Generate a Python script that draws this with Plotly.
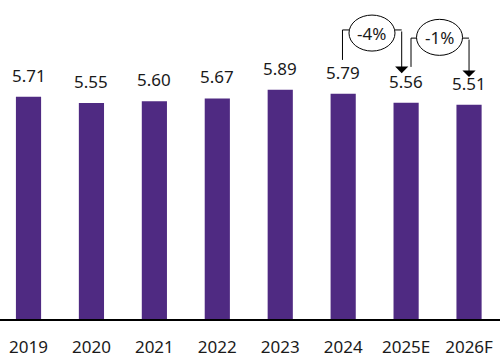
import plotly.graph_objects as go

years = ["2019", "2020", "2021", "2022", "2023", "2024", "2025E", "2026F"]
values = [5.71, 5.55, 5.60, 5.67, 5.89, 5.79, 5.56, 5.51]
change_labels = ["-4%", "-1%"]
change_from = [5, 6]   # index of start year
change_to = [6, 7]     # index of end year

BAR = "#4F2A82"
TXT = "#1a1a1a"
FONT = "Noto Sans"

fig = go.Figure()
fig.add_trace(go.Bar(
    x=list(range(len(years))), y=values, width=0.4,
    marker=dict(color=BAR, line=dict(width=0)),
    hoverinfo="skip",
))

annotations = []
for i, v in enumerate(values):
    annotations.append(dict(
        x=i, y=v, xref="x", yref="y", text=f"{v:.2f}", showarrow=False,
        yanchor="bottom", yshift=8, font=dict(family=FONT, size=17, color=TXT),
    ))

shapes = []
cfg = [
    dict(lx=-0.011, rx=-0.07, hy=7.43, cy=7.35, cx=0.458, lb=0.87, tip=0.76),
    dict(lx=0.078, rx=0.0, hy=7.22, cy=7.24, cx=0.531, lb=0.92, tip=0.71),
]
for k, c in enumerate(cfg):
    a, b = change_from[k], change_to[k]
    xl = a + c["lx"]
    xr = b + c["rx"]
    ybot = values[a] + c["lb"]
    ytip = values[b] + c["tip"]
    shapes.append(dict(type="path", xref="x", yref="y",
                       path=f"M {xl},{ybot} L {xl},{c['hy']} L {a + c['cx']},{c['hy']}",
                       line=dict(color="black", width=1)))
    shapes.append(dict(type="line", xref="x", yref="y",
                       x0=a + c["cx"], x1=xr, y0=c["hy"], y1=c["hy"],
                       line=dict(color="black", width=1)))
    shapes.append(dict(type="circle", xref="x", yref="y",
                       xsizemode="pixel", ysizemode="pixel",
                       xanchor=a + c["cx"], yanchor=c["cy"],
                       x0=-23, x1=23, y0=-18, y1=18,
                       fillcolor="white", line=dict(color="black", width=1), layer="above"))
    annotations.append(dict(x=a + c["cx"], y=c["cy"], xref="x", yref="y",
                            text=change_labels[k], showarrow=False,
                            font=dict(family=FONT, size=17, color=TXT)))
    annotations.append(dict(x=xr, y=ytip, xref="x", yref="y",
                            ax=xr, ay=c["hy"], axref="x", ayref="y",
                            text="", showarrow=True, arrowhead=1, arrowsize=2.2,
                            arrowwidth=1, arrowcolor="black", standoff=0))

fig.update_layout(
    width=500, height=357,
    margin=dict(l=0, r=0, t=0, b=38),
    paper_bgcolor="white", plot_bgcolor="white",
    showlegend=False,
    annotations=annotations, shapes=shapes,
    xaxis=dict(
        range=[-0.453, 7.492], tickmode="array",
        tickvals=list(range(len(years))), ticktext=years,
        showline=True, linecolor="black", linewidth=1.5,
        showgrid=False, zeroline=False, ticks="",
        tickfont=dict(family=FONT, size=17, color=TXT),
        ticklabelstandoff=12,
    ),
    yaxis=dict(range=[0, 8.2], visible=False, showgrid=False, zeroline=False),
)

fig.write_html("out.html", config={"displayModeBar": False},
               post_script="document.body.style.margin='0px';document.body.style.overflow='hidden';")
